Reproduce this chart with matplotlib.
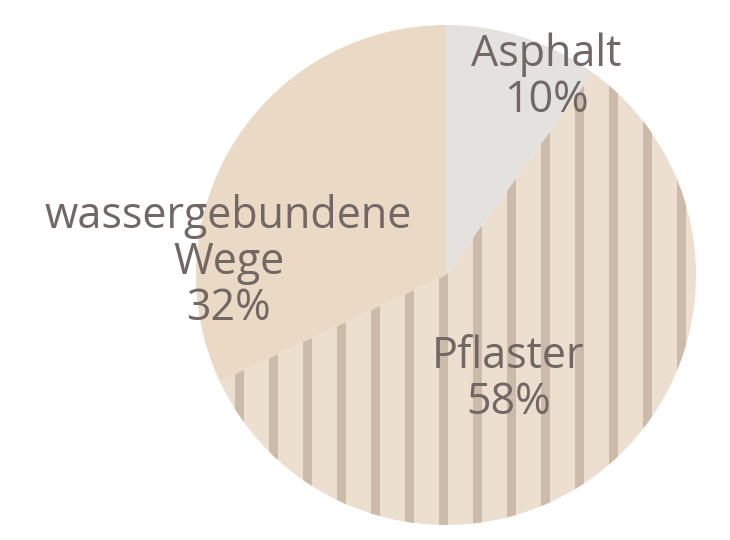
import numpy as np
import matplotlib.pyplot as plt
from matplotlib.patches import Rectangle

labels = ['Asphalt', 'Pflaster', 'wassergebundene\nWege']
shares = [10, 58, 32]

colors = ['#e4e2df', '#ecdfcf', '#ead9c4']
stripe_color = '#ccbbaa'
text_color = '#716764'

# label centres in axes data units (pie radius = 1)
label_pos = [(0.40, 0.79), (0.25, -0.42), (-0.87, 0.05)]

fig = plt.figure(figsize=(7.3, 5.4), dpi=100)
ax = fig.add_axes([196 / 730, 15 / 540, 500 / 730, 500 / 540])

wedges, _ = ax.pie(shares, colors=colors, startangle=90, counterclock=False,
                   radius=1, wedgeprops=dict(linewidth=0))

# vertical stripes on the Pflaster wedge
pflaster = wedges[1]
for x in np.arange(-0.982, 1.05, 34 / 250):
    stripe = Rectangle((x, -1.1), 9 / 250, 2.2, facecolor=stripe_color,
                       linewidth=0, zorder=2)
    ax.add_patch(stripe)
    stripe.set_clip_path(pflaster)

for lab, val, (x, y) in zip(labels, shares, label_pos):
    ax.text(x, y, f'{lab}\n{val}%', ha='center', va='center',
            fontsize=31, color=text_color, family='Open Sans',
            linespacing=1.05, zorder=3)

ax.set_xlim(-1, 1)
ax.set_ylim(-1, 1)
ax.set_aspect('equal')
ax.axis('off')

fig.savefig('out.png', dpi=100)
